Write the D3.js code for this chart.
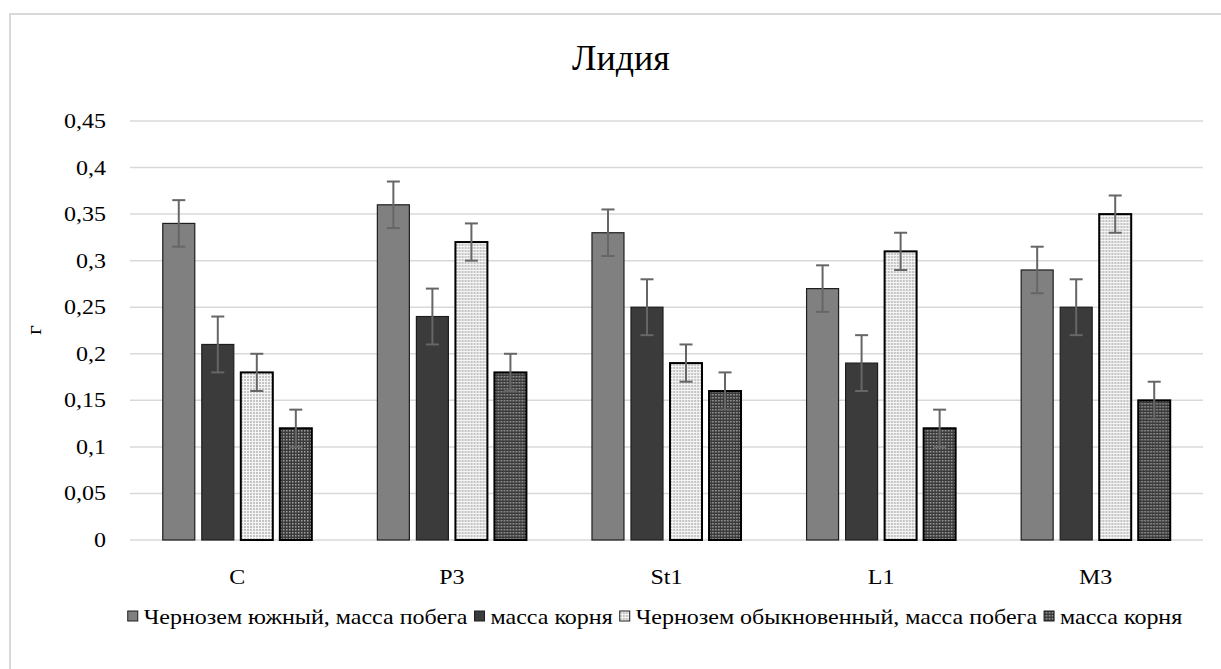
<!DOCTYPE html>
<html>
<head>
<meta charset="utf-8">
<script src="https://cdn.jsdelivr.net/npm/d3@7"></script>
<style>
  body { margin: 0; background: #fff; }
</style>
</head>
<body>
<div id="chart"></div>
<script>
// categories and series
const categories = ["C", "P3", "St1", "L1", "M3"];
const seriesNames = [
    "Чернозем южный, масса побега",
    "масса корня",
    "Чернозем обыкновенный, масса побега",
    "масса корня"
];
const southShoot = [0.34, 0.36, 0.33, 0.27, 0.29];
const southRoot  = [0.21, 0.24, 0.25, 0.19, 0.25];
const ordShoot   = [0.18, 0.32, 0.19, 0.31, 0.35];
const ordRoot    = [0.12, 0.18, 0.16, 0.12, 0.15];
const errors     = [0.025, 0.03, 0.02, 0.02];
const yTicks     = [0, 0.05, 0.1, 0.15, 0.2, 0.25, 0.3, 0.35, 0.4, 0.45];

const seriesValues = [southShoot, southRoot, ordShoot, ordRoot];
const fills = ["#808080", "#3b3b3b", "url(#dotsLight)", "url(#dotsDark)"];

const W = 1221, H = 669;
const margin = {top: 121, left: 130, right: 18, bottom: 129};
const width = W - margin.left - margin.right;
const height = H - margin.top - margin.bottom;
const serif = "'Liberation Serif'";

const svg = d3.select("#chart").append("svg")
    .attr("width", W).attr("height", H);

// patterns
const defs = svg.append("defs");
let p1 = defs.append("pattern").attr("id", "dotsLight")
    .attr("patternUnits", "userSpaceOnUse").attr("width", 3).attr("height", 3);
p1.append("rect").attr("width", 3).attr("height", 3).attr("fill", "#f4f4f4");
p1.append("rect").attr("width", 2).attr("height", 2).attr("fill", "#c4c4c4");
let p2 = defs.append("pattern").attr("id", "dotsDark")
    .attr("patternUnits", "userSpaceOnUse").attr("width", 3).attr("height", 3);
p2.append("rect").attr("width", 3).attr("height", 3).attr("fill", "#3a3a3a");
p2.append("rect").attr("width", 1.5).attr("height", 1.5).attr("fill", "#a0a0a0");

// chart frame
svg.append("rect")
    .attr("x", 10).attr("y", 14)
    .attr("width", W + 20).attr("height", H + 20)
    .attr("fill", "none").attr("stroke", "#d9d9d9").attr("stroke-width", 2);

// horizontally stretched text helper
function stretchText(sel, x, y, sx, anchor) {
    return sel.append("text")
        .attr("font-family", serif)
        .attr("fill", "#000")
        .attr("text-anchor", anchor || "middle")
        .attr("transform", "translate(" + x + "," + y + ") scale(" + sx + ",1)");
}

// title
stretchText(svg, 621, 70, 1.0).attr("font-size", 36).text("Лидия");

const g = svg.append("g")
    .attr("transform", "translate(" + margin.left + "," + margin.top + ")");

const x0 = d3.scaleBand().domain(categories).range([0, width]).padding(0);
const x1 = d3.scaleBand().domain(d3.range(4)).range([0, x0.bandwidth()])
    .paddingInner(0.18).paddingOuter(0.84);
const y = d3.scaleLinear().domain([0, 0.45]).range([height, 0]);

// gridlines
g.selectAll(".grid").data(yTicks).enter().append("line")
    .attr("class", "grid")
    .attr("x1", 0).attr("x2", width)
    .attr("y1", d => y(d)).attr("y2", d => y(d))
    .attr("stroke", "#d9d9d9").attr("stroke-width", 1.5);

// y tick labels
yTicks.forEach(function(t) {
    stretchText(g, -24, y(t) + 7, 1.2, "end")
        .attr("font-size", 20)
        .text(d3.format(".2~f")(t).replace(".", ","));
});

// y axis title
svg.append("text")
    .attr("font-family", serif)
    .attr("font-size", 20)
    .attr("text-anchor", "middle")
    .attr("transform", "translate(41,330) rotate(-90) scale(1.2,1)")
    .text("г");

// category labels
categories.forEach(function(c) {
    stretchText(g, x0(c) + x0.bandwidth() / 2, height + 44, 1.2).attr("font-size", 20).text(c);
});

// bars
const groups = g.selectAll(".grp").data(categories).enter().append("g")
    .attr("class", "grp")
    .attr("transform", d => "translate(" + x0(d) + ",0)");

groups.selectAll("rect.bar")
    .data((c, ci) => seriesValues.map((vals, si) => ({s: si, v: vals[ci]})))
    .enter().append("rect")
    .attr("class", "bar")
    .attr("x", d => x1(d.s))
    .attr("y", d => y(d.v))
    .attr("width", x1.bandwidth())
    .attr("height", d => height - y(d.v))
    .attr("fill", d => fills[d.s])
    .attr("stroke", d => d.s < 2 ? "#1e1e1e" : "#000")
    .attr("stroke-width", d => d.s < 2 ? 1.2 : 2);

// error bars
const errs = groups.selectAll("g.err")
    .data((c, ci) => seriesValues.map((vals, si) => ({s: si, v: vals[ci], e: errors[si]})))
    .enter().append("g").attr("class", "err")
    .attr("stroke", "#666").attr("stroke-width", 2);
errs.append("line")
    .attr("x1", d => x1(d.s) + x1.bandwidth() / 2)
    .attr("x2", d => x1(d.s) + x1.bandwidth() / 2)
    .attr("y1", d => y(d.v + d.e)).attr("y2", d => y(d.v - d.e));
[1, -1].forEach(function(sign) {
    errs.append("line")
        .attr("x1", d => x1(d.s) + x1.bandwidth() / 2 - 6.5)
        .attr("x2", d => x1(d.s) + x1.bandwidth() / 2 + 6.5)
        .attr("y1", d => y(d.v + sign * d.e)).attr("y2", d => y(d.v + sign * d.e));
});

// legend
const legend = svg.append("g");
let lx = 0;
const legendSx = 1.2, legendY = 624;
seriesNames.forEach(function(name, i) {
    legend.append("rect")
        .attr("x", lx).attr("y", legendY - 13)
        .attr("width", 10).attr("height", 10)
        .attr("fill", fills[i]).attr("stroke", "#1e1e1e").attr("stroke-width", 1);
    let t = stretchText(legend, lx + 16, legendY, legendSx, "start")
        .attr("font-size", 20).text(name);
    lx += 16 + t.node().getComputedTextLength() * legendSx + 7;
});
legend.attr("transform", "translate(" + (655 - (lx - 7) / 2) + ",0)");
</script>
</body>
</html>
